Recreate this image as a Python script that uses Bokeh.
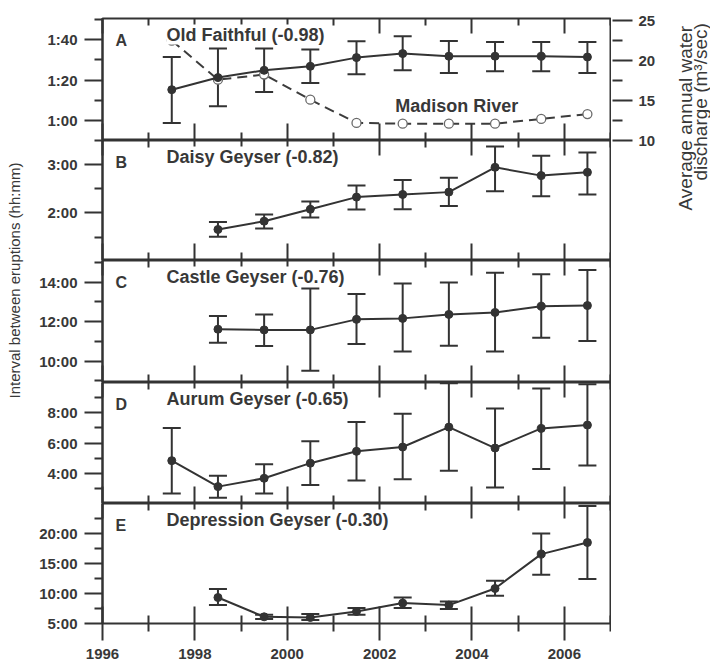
import math
from bokeh.plotting import figure
from bokeh.models import (ColumnDataSource, Range1d, LinearAxis, FixedTicker,
                          Whisker, TeeHead, Label)
from bokeh.layouts import row, column
from bokeh.embed import file_html
from bokeh.resources import INLINE

# ---------------- data ----------------
years_a = [1997.5, 1998.5, 1999.5, 2000.5, 2001.5, 2002.5, 2003.5, 2004.5, 2005.5, 2006.5]
years_b = [1998.5, 1999.5, 2000.5, 2001.5, 2002.5, 2003.5, 2004.5, 2005.5, 2006.5]

# Old Faithful interval (minutes)
of_mean = [75.2, 81.2, 84.8, 86.8, 91.1, 93.1, 91.8, 91.8, 91.8, 91.4]
of_upper = [91.4, 95.6, 95.6, 95.1, 99.2, 101.7, 99.4, 98.9, 98.9, 98.9]
of_lower = [58.7, 67.0, 74.0, 78.5, 82.8, 84.8, 83.5, 84.3, 84.3, 83.5]

# Madison River discharge (m3/sec)
madison = [22.5, 17.6, 18.25, 15.1, 12.2, 12.1, 12.1, 12.1, 12.7, 13.3]

# Daisy Geyser interval (minutes)
daisy_mean = [99.5, 109.8, 124.6, 139.7, 143.0, 145.9, 176.7, 166.4, 170.5]
daisy_upper = [108.9, 118.0, 134.4, 154.1, 161.1, 163.6, 202.5, 191.1, 195.2]
daisy_lower = [90.4, 100.8, 114.3, 124.2, 124.6, 128.6, 147.1, 140.9, 143.0]

# Castle Geyser interval (minutes)
castle_mean = [697, 695, 695, 727, 730, 742, 748, 767, 769]
castle_upper = [737, 742, 821, 804, 836, 839, 869, 864, 877]
castle_lower = [656, 646, 571, 652, 629, 647, 629, 671, 661]

# Aurum Geyser interval (minutes)
aurum_mean = [290, 187, 220, 280, 327, 344, 423, 340, 418, 431]
aurum_upper = [420, 230, 276, 367, 443, 476, 597, 497, 576, 593]
aurum_lower = [160, 143, 160, 193, 211, 216, 250, 183, 257, 271]

# Depression Geyser interval (minutes)
dep_mean = [560, 367, 360, 420, 504, 484, 650, 994, 1110]
dep_upper = [644, 387, 394, 454, 560, 520, 727, 1200, 1476]
dep_lower = [484, 344, 336, 387, 454, 444, 577, 787, 744]

# ticks
x_major = [1996, 1998, 2000, 2002, 2004, 2006]
x_minor = [1997, 1999, 2001, 2003, 2005, 2007]
a_major = [60, 80, 100]
a_minor = [50, 70, 90, 110]
b_major = [120, 180]
b_minor = [90, 150, 210]
c_major = [600, 720, 840]
c_minor = [540, 660, 780, 900]
d_major = [240, 360, 480]
d_minor = [180, 300, 420, 540]
e_major = [300, 600, 900, 1200]
e_minor = [450, 750, 1050, 1350]
q_major = [10, 15, 20, 25]
q_minor = [12.5, 17.5, 22.5]

panel_letters = ["A", "B", "C", "D", "E"]
panel_titles = ["Old Faithful (-0.98)", "Daisy Geyser (-0.82)", "Castle Geyser (-0.76)",
                "Aurum Geyser (-0.65)", "Depression Geyser (-0.30)"]
left_title = "Interval between eruptions (hh:mm)"
right_title_1 = "Average annual water"
right_title_2 = "discharge (m\u00b3/sec)"
river_label = "Madison River"

# ---------------- style ----------------
INK = "#333333"
TXT = "#383838"
FONT = "Liberation Sans"
FRAME_W = 508
TOTAL_H = 665


def hhmm(m):
    m = int(round(m))
    return f"{m // 60}:{m % 60:02d}"


xr = Range1d(1996, 2007)


def style_tick_axis(ax, tin, tout, mtin, mtout):
    ax.axis_line_color = None
    ax.major_tick_in = tin
    ax.major_tick_out = tout
    ax.minor_tick_in = mtin
    ax.minor_tick_out = mtout
    ax.major_tick_line_color = INK
    ax.minor_tick_line_color = INK
    ax.major_tick_line_width = 2
    ax.minor_tick_line_width = 2


def hide_labels(ax):
    ax.major_label_standoff = 0
    ax.major_label_text_color = None


def make_panel(frame_h, yrange, ymaj, ymin, top=0, bottom=0, xlabels=False):
    p = figure(frame_width=FRAME_W, frame_height=frame_h, x_range=xr,
               y_range=Range1d(*yrange),
               min_border_left=70, min_border_right=1,
               min_border_top=top, min_border_bottom=bottom,
               toolbar_location=None, output_backend="svg",
               x_axis_location=None, y_axis_location="left")
    p.grid.visible = False
    p.outline_line_color = INK
    p.outline_line_width = 2
    p.background_fill_color = "white"
    p.border_fill_color = "white"

    ya = p.yaxis[0]
    ya.ticker = FixedTicker(ticks=ymaj, minor_ticks=ymin)
    ya.major_label_overrides = {v: hhmm(v) for v in ymaj}
    ya.axis_line_color = INK
    ya.axis_line_width = 2
    ya.major_tick_in = 0
    ya.major_tick_out = 18
    ya.minor_tick_in = 0
    ya.minor_tick_out = 8
    ya.major_tick_line_color = INK
    ya.minor_tick_line_color = INK
    ya.major_tick_line_width = 2
    ya.minor_tick_line_width = 2
    ya.major_label_standoff = 7
    ya.major_label_text_font = FONT
    ya.major_label_text_font_style = "bold"
    ya.major_label_text_font_size = "15px"
    ya.major_label_text_color = TXT

    bx = LinearAxis(ticker=FixedTicker(ticks=x_major, minor_ticks=x_minor))
    if xlabels:
        style_tick_axis(bx, 17, 17, 8, 8)
        bx.major_label_standoff = 8
        bx.major_label_text_font = FONT
        bx.major_label_text_font_style = "bold"
        bx.major_label_text_font_size = "15px"
        bx.major_label_text_color = TXT
    else:
        style_tick_axis(bx, 17, 0, 8, 0)
        hide_labels(bx)
    p.add_layout(bx, "below")

    tx = LinearAxis(ticker=FixedTicker(ticks=x_major, minor_ticks=x_minor))
    style_tick_axis(tx, 15, 0, 7, 0)
    hide_labels(tx)
    p.add_layout(tx, "above")
    return p


def add_series(p, xs, mean, upper, lower):
    src = ColumnDataSource(dict(x=xs, mean=mean, upper=upper, lower=lower))
    w = Whisker(source=src, base="x", upper="upper", lower="lower",
                line_color=INK, line_width=2,
                upper_head=TeeHead(size=18, line_color=INK, line_width=2),
                lower_head=TeeHead(size=18, line_color=INK, line_width=2))
    p.add_layout(w)
    p.line("x", "mean", source=src, line_color=INK, line_width=2)
    p.scatter("x", "mean", source=src, marker="circle", size=8,
              fill_color=INK, line_color=INK)


def add_titles(p, idx, ytop):
    p.add_layout(Label(x=1996, y=ytop, x_offset=13, y_offset=-13,
                       text=panel_letters[idx], text_baseline="top",
                       text_font=FONT, text_font_style="bold",
                       text_font_size="16px", text_color=TXT))
    p.add_layout(Label(x=1996, y=ytop, x_offset=64, y_offset=-6,
                       text=panel_titles[idx], text_baseline="top",
                       text_font=FONT, text_font_style="bold",
                       text_font_size="18px", text_color=TXT,
                       background_fill_color="white", background_fill_alpha=1.0))


# ---------------- panel A ----------------
A_RANGE = (50, 110.5)
q_range = Range1d(10, 25.25)
pa = make_panel(122, A_RANGE, a_major, a_minor, top=18)
pa.extra_y_ranges = {"q": q_range}
msrc = ColumnDataSource(dict(x=years_a, q=madison))
pa.line("x", "q", source=msrc, y_range_name="q", line_color="#3c3c3c",
        line_width=2, line_dash="10 6")
pa.scatter("x", "q", source=msrc, y_range_name="q", marker="circle", size=9,
           fill_color="white", line_color="#6a6a6a", line_width=1.3)
add_series(pa, years_a, of_mean, of_upper, of_lower)
add_titles(pa, 0, A_RANGE[1])
pa.add_layout(Label(x=2002.34, y=14.3, y_range_name="q", text=river_label,
                    text_baseline="middle", text_font=FONT,
                    text_font_style="bold", text_font_size="18px",
                    text_color=TXT))

# ---------------- panel B ----------------
B_RANGE = (61, 210)
pb = make_panel(120, B_RANGE, b_major, b_minor)
add_series(pb, years_b, daisy_mean, daisy_upper, daisy_lower)
add_titles(pb, 1, B_RANGE[1])

# ---------------- panel C ----------------
C_RANGE = (535, 906)
pc = make_panel(122, C_RANGE, c_major, c_minor)
add_series(pc, years_b, castle_mean, castle_upper, castle_lower)
add_titles(pc, 2, C_RANGE[1])

# ---------------- panel D ----------------
D_RANGE = (120, 600)
pd_ = make_panel(121, D_RANGE, d_major, d_minor)
add_series(pd_, years_a, aurum_mean, aurum_upper, aurum_lower)
add_titles(pd_, 3, D_RANGE[1])

# ---------------- panel E ----------------
E_RANGE = (300, 1500)
pe = make_panel(120, E_RANGE, e_major, e_minor, bottom=42, xlabels=True)
add_series(pe, years_b, dep_mean, dep_upper, dep_lower)
add_titles(pe, 4, E_RANGE[1])

# ---------------- right axis (discharge) ----------------
rf = figure(frame_width=1, frame_height=122, x_range=Range1d(0, 1), y_range=q_range,
            min_border_left=0, min_border_right=46, min_border_top=18,
            min_border_bottom=TOTAL_H - 18 - 122,
            toolbar_location=None, output_backend="svg",
            x_axis_location=None, y_axis_location="right")
rf.grid.visible = False
rf.outline_line_color = None
ra = rf.yaxis[0]
ra.ticker = FixedTicker(ticks=q_major, minor_ticks=q_minor)
ra.axis_line_color = None
ra.major_tick_in = 0
ra.major_tick_out = 20
ra.minor_tick_in = 0
ra.minor_tick_out = 10
ra.major_tick_line_color = INK
ra.minor_tick_line_color = INK
ra.major_tick_line_width = 2
ra.minor_tick_line_width = 2
ra.major_label_standoff = 6
ra.major_label_text_font = FONT
ra.major_label_text_font_style = "bold"
ra.major_label_text_font_size = "15px"
ra.major_label_text_color = TXT


def text_fig(w):
    f = figure(frame_width=w, frame_height=TOTAL_H, x_range=Range1d(0, w),
               y_range=Range1d(0, TOTAL_H), min_border=0,
               toolbar_location=None, output_backend="svg",
               x_axis_location=None, y_axis_location=None)
    f.grid.visible = False
    f.outline_line_color = None
    return f


lf = text_fig(32)
lf.add_layout(Label(x=14, y=TOTAL_H - 380, angle=math.pi / 2,
                    text=left_title, text_align="left", text_baseline="alphabetic",
                    text_font=FONT, text_font_size="15px", text_color=TXT))

tf = text_fig(52)
tf.add_layout(Label(x=27, y=TOTAL_H - 192, angle=math.pi / 2,
                    text=right_title_1, text_align="left", text_baseline="alphabetic",
                    text_font=FONT, text_font_size="19px", text_color=TXT))
tf.add_layout(Label(x=42, y=TOTAL_H - 162, angle=math.pi / 2,
                    text=right_title_2, text_align="left", text_baseline="alphabetic",
                    text_font=FONT, text_font_size="19px", text_color=TXT))

layout = row(lf, column(pa, pb, pc, pd_, pe), rf, tf)

open("out.html", "w").write(file_html(layout, INLINE))
